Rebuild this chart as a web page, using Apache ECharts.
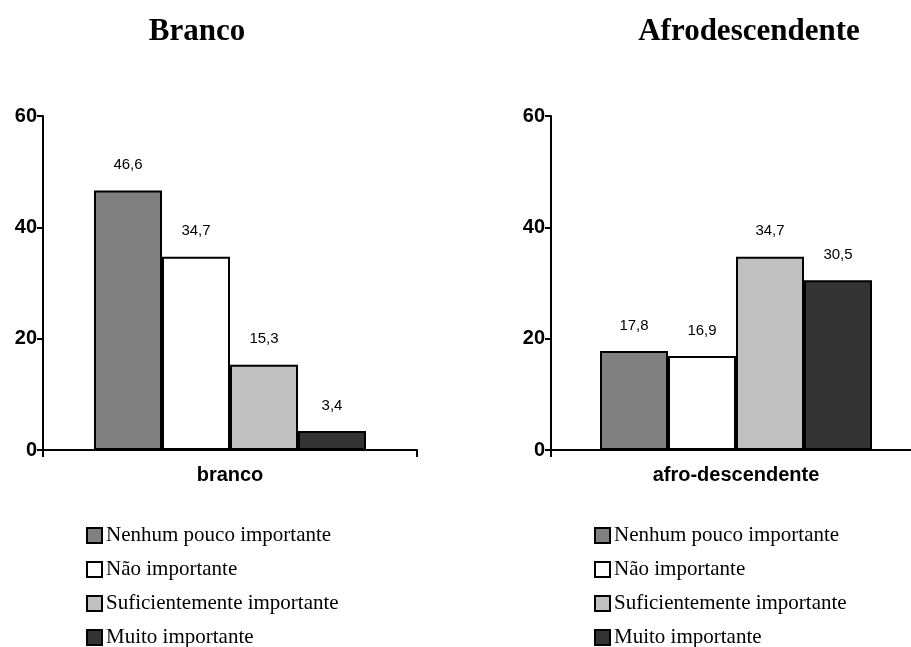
<!DOCTYPE html>
<html>
<head>
<meta charset="utf-8">
<script src="https://cdn.jsdelivr.net/npm/echarts@6/dist/echarts.min.js"></script>
<style>
  html, body { margin: 0; padding: 0; background: #fff; overflow: hidden; }
  #chart { width: 931px; height: 647px; }
</style>
</head>
<body>
<div id="chart"></div>
<script>
// Data
var groupTitles = ['Branco', 'Afrodescendente'];
var groupCategories = ['branco', 'afro-descendente'];
var seriesNames = ['Nenhum pouco importante', 'Não importante', 'Suficientemente importante', 'Muito importante'];
var brancoValues = [46.6, 34.7, 15.3, 3.4];
var afroValues = [17.8, 16.9, 34.7, 30.5];
var yTicks = [0, 20, 40, 60];

var chartElement = document.getElementById('chart');
var chart = echarts.init(chartElement, null, { renderer: 'canvas' });

// Colors
var barColors = ['#808080', '#ffffff', '#c0c0c0', '#333333'];

// Layout (right plot runs past the page edge, as in the original)
var groupValues = [brancoValues, afroValues];
var grids = [
    { left: 43, top: 116, width: 374, height: 334 },
    { left: 551, top: 116, width: 370, height: 334 }
];
var titleCenters = [197, 749];
var legendLefts = [81, 589];

var xAxes = [], yAxes = [], series = [], legends = [], graphics = [];

groupCategories.forEach(function (cat, g) {
    xAxes.push({
        type: 'category',
        gridIndex: g,
        data: [cat],
        axisLine: { lineStyle: { color: '#000', width: 2 } },
        axisTick: { show: true, length: 7, lineStyle: { color: '#000', width: 2 } },
        axisLabel: {
            color: '#000',
            fontFamily: 'Liberation Sans, Arial, sans-serif',
            fontWeight: 'bold',
            fontSize: 20,
            margin: 15
        }
    });
    yAxes.push({
        type: 'value',
        gridIndex: g,
        min: yTicks[0],
        max: yTicks[yTicks.length - 1],
        interval: 20,
        splitLine: { show: false },
        axisLine: { show: true, lineStyle: { color: '#000', width: 2 } },
        axisTick: { show: true, length: 6, lineStyle: { color: '#000', width: 2 } },
        axisLabel: {
            color: '#000',
            fontFamily: 'Liberation Sans, Arial, sans-serif',
            fontWeight: 'bold',
            fontSize: 20,
            margin: 6
        }
    });

    seriesNames.forEach(function (name, i) {
        series.push({
            name: name,
            type: 'bar',
            xAxisIndex: g,
            yAxisIndex: g,
            barWidth: 68,
            barGap: '0%',
            data: [groupValues[g][i]],
            itemStyle: {
                color: barColors[i],
                borderColor: '#000',
                borderWidth: 2
            },
            label: {
                show: true,
                position: 'top',
                distance: 18,
                color: '#000',
                fontFamily: 'Liberation Sans, Arial, sans-serif',
                fontSize: 15,
                formatter: function (p) {
                    return String(p.value).replace('.', ',');
                }
            },
            animation: false
        });
    });

    legends.push({
        orient: 'vertical',
        left: legendLefts[g],
        top: 520,
        height: 140,
        itemWidth: 15,
        itemHeight: 15,
        itemGap: 13,
        icon: 'rect',
        data: seriesNames,
        selectedMode: false,
        itemStyle: { borderColor: '#000', borderWidth: 2 },
        textStyle: {
            color: '#000',
            fontFamily: 'Liberation Serif, Times New Roman, serif',
            fontSize: 21,
            padding: [0, 0, 0, -1]
        }
    });

    graphics.push({
        type: 'text',
        x: titleCenters[g],
        y: 32,
        style: {
            text: groupTitles[g],
            textAlign: 'center',
            textVerticalAlign: 'middle',
            font: 'bold 31px "Liberation Serif", "Times New Roman", serif',
            fill: '#000'
        }
    });
});

chart.setOption({
    backgroundColor: '#fff',
    animation: false,
    grid: grids,
    xAxis: xAxes,
    yAxis: yAxes,
    legend: legends,
    graphic: graphics,
    series: series
});
</script>
</body>
</html>
